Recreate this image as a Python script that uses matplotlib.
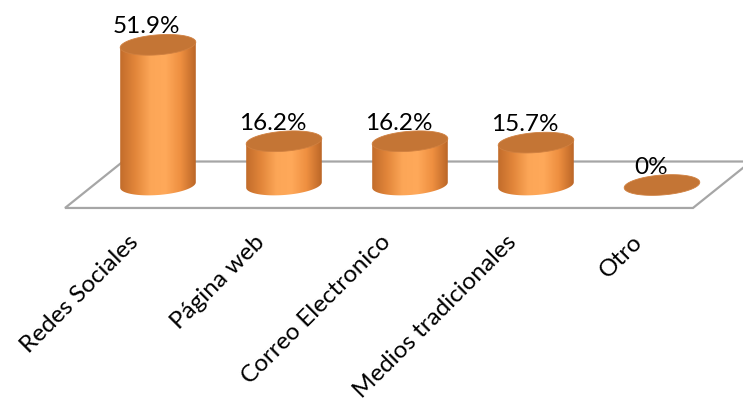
import numpy as np
import matplotlib.pyplot as plt
from matplotlib.patches import Polygon, PathPatch
from matplotlib.path import Path
from matplotlib.colors import LinearSegmentedColormap

categories = ["Redes Sociales", "Página web", "Correo Electronico",
              "Medios tradicionales", "Otro"]
values = [51.9, 16.2, 16.2, 15.7, 0]
value_labels = ["51.9%", "16.2%", "16.2%", "15.7%", "0%"]

plt.rcParams['font.family'] = ['Lato', 'DejaVu Sans']

fig = plt.figure(figsize=(7.43, 4), dpi=100)
ax = fig.add_axes([0, 0, 1, 1])
ax.set_xlim(-1.254, 4.643)
ax.set_ylim(-79.6, 68.5)
ax.axis('off')

# cylinder geometry (x in category units, y in percent)
a = 0.30     # half width
b = 3.7      # half height of the end ellipses
k = 1.0      # slight tilt of the ellipses

body_cmap = LinearSegmentedColormap.from_list(
    "body", ["#c26c2b", "#e2863a", "#fca657", "#ffa95a", "#ee8f40", "#bb6627"])

# floor
floor = Polygon([(-0.738, -8.5), (4.246, -8.5), (4.706, 8.7), (-0.278, 8.7)],
                closed=True, facecolor="white", edgecolor="#a6a6a6", lw=1.6, zorder=1)
ax.add_patch(floor)


def ellipse_pts(cx, cy, t):
    return np.column_stack([cx + a * np.cos(t), cy + b * np.sin(t) + k * np.cos(t)])


for i, (v, lab) in enumerate(zip(values, value_labels)):
    bot = 0.0
    top = v
    if v > 0:
        t = np.linspace(np.pi, 2 * np.pi, 60)
        lower = ellipse_pts(i, bot, t)
        verts = np.vstack([[i - a, top - k], lower, [i + a, top + k], [i - a, top - k]])
        body = PathPatch(Path(verts), facecolor="none", edgecolor="none", zorder=2)
        ax.add_patch(body)
        grad = np.linspace(0, 1, 256).reshape(1, -1)
        im = ax.imshow(grad, cmap=body_cmap, aspect="auto",
                       extent=[i - a, i + a, bot - b - k - 1, top + b + k],
                       zorder=2, interpolation="bilinear")
        im.set_clip_path(body)
    t = np.linspace(0, 2 * np.pi, 120)
    cap = Polygon(ellipse_pts(i, top, t), closed=True, facecolor="#c47535",
                  edgecolor="#d08040", lw=0.6, zorder=3)
    ax.add_patch(cap)
    ax.text(i - 0.09, top + 4.2, lab, ha="center", va="baseline",
            fontsize=17.5, color="black", zorder=4)

for i, cat in enumerate(categories):
    ax.text(i - 0.18, -20.0, cat, rotation=45, rotation_mode="anchor",
            ha="right", va="center", fontsize=17.5, color="black")

fig.savefig("out.png", dpi=100)
